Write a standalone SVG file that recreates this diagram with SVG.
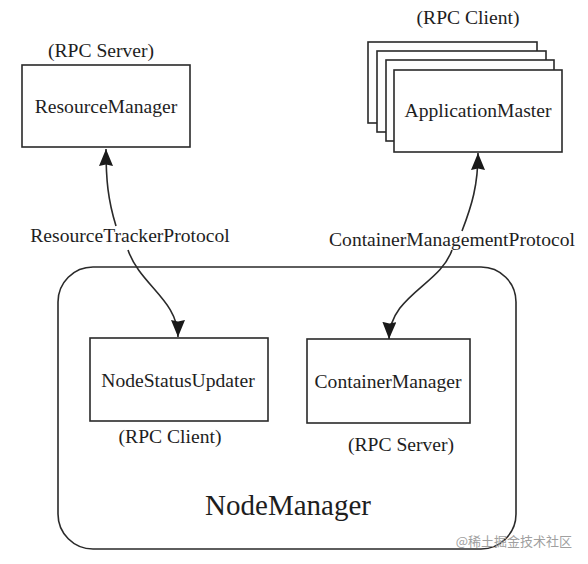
<svg xmlns="http://www.w3.org/2000/svg" width="588" height="564" viewBox="0 0 588 564">
<style>
.box{fill:#fff;stroke:#2a2a2a;stroke-width:1.6}
.t{font-family:"Liberation Serif","Times New Roman",serif;fill:#1e1e1e;text-anchor:middle}
.n{font-size:19.6px}
.l{font-size:19.6px}
.c{fill:none;stroke:#2a2a2a;stroke-width:1.6}
</style>
<defs>
<marker id="ah" markerUnits="userSpaceOnUse" markerWidth="20" markerHeight="16" refX="17" refY="7" orient="auto">
<path d="M0,0 L17,7 L0,14 L1.5,7 z" fill="#1a1a1a"/>
</marker>
</defs>
<rect width="588" height="564" fill="#fff"/>
<g id="nodemanager">
<rect class="box" x="58" y="267" width="458" height="282" rx="35" ry="35"/>
<text class="t" x="288" y="515" font-size="29">NodeManager</text>
</g>
<g id="resourcemanager">
<text class="t l" x="101" y="57">(RPC Server)</text>
<rect class="box" x="22" y="65" width="168" height="82"/>
<text class="t n" x="106" y="113">ResourceManager</text>
</g>
<g id="applicationmaster">
<text class="t l" x="468" y="24">(RPC Client)</text>
<rect class="box" x="368" y="42" width="169" height="81"/>
<rect class="box" x="377" y="51" width="169" height="81"/>
<rect class="box" x="386" y="60" width="168" height="81"/>
<rect class="box" x="394" y="70" width="168" height="82"/>
<text class="t n" x="478" y="117">ApplicationMaster</text>
</g>
<g id="nodestatusupdater">
<rect class="box" x="90" y="338" width="178" height="83"/>
<text class="t n" x="178" y="387">NodeStatusUpdater</text>
<text class="t l" x="170" y="443">(RPC Client)</text>
</g>
<g id="containermanager">
<rect class="box" x="307" y="339" width="163" height="84"/>
<text class="t n" x="388" y="388">ContainerManager</text>
<text class="t l" x="401" y="451">(RPC Server)</text>
</g>
<g id="connectors">
<path class="c" d="M116,226 C108,200 106,180 106,149" marker-end="url(#ah)"/>
<path class="c" d="M128,250 C140,285 178,300 178,337" marker-end="url(#ah)"/>
<path class="c" d="M462,231 C472,205 478,185 478,153" marker-end="url(#ah)"/>
<path class="c" d="M452,250 C440,285 390,295 389,339" marker-end="url(#ah)"/>
<text class="t l" x="130" y="242">ResourceTrackerProtocol</text>
<text class="t l" x="452" y="246">ContainerManagementProtocol</text>
</g>
<text x="572" y="546" font-family="'Noto Sans CJK SC',sans-serif" font-size="13" fill="#a0a0a0" text-anchor="end">@稀土掘金技术社区</text>
</svg>
